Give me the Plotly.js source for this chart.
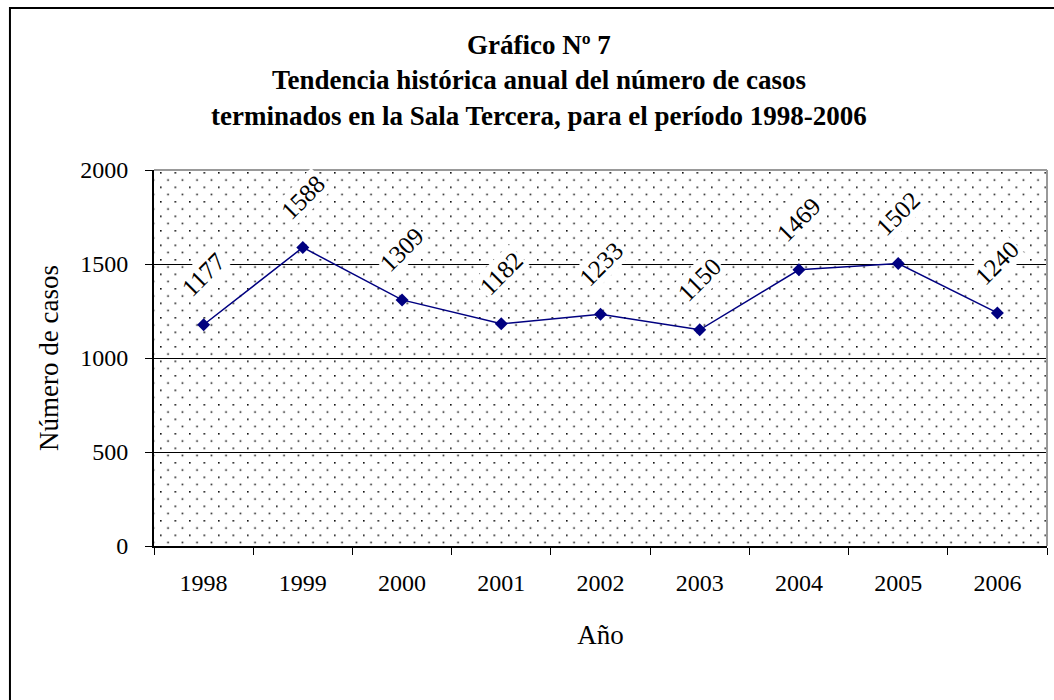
<!DOCTYPE html>
<html>
<head>
<meta charset="utf-8">
<script src="https://cdn.plot.ly/plotly-3.0.1.min.js"></script>
<style>
  html, body { margin: 0; padding: 0; background: #fff; }
  #chart { width: 1054px; height: 700px; }
</style>
</head>
<body>
<div id="chart"></div>
<script>
// values
const years = ['1998', '1999', '2000', '2001', '2002', '2003', '2004', '2005', '2006'];
const casos = [1177, 1588, 1309, 1182, 1233, 1150, 1469, 1502, 1240];
const yTicks = [0, 500, 1000, 1500, 2000];
const titleLines = [
  'Gráfico Nº 7',
  'Tendencia histórica anual del número de casos',
  'terminados en la Sala Tercera, para el período 1998-2006'
];

const serif = '"Liberation Serif", "DejaVu Serif", serif';

// dotted plot background, as a tiled svg pattern
function dotPattern(w, h) {
  const svg = '<svg xmlns="http://www.w3.org/2000/svg" width="' + w + '" height="' + h + '">' +
    '<defs><pattern id="p" patternUnits="userSpaceOnUse" width="14.5" height="14.5" x="6" y="2">' +
    '<rect x="0" y="0" width="1.6" height="1.6" fill="#111"/>' +
    '<rect x="7.25" y="7.25" width="1.6" height="1.6" fill="#111"/>' +
    '</pattern></defs><rect width="100%" height="100%" fill="url(#p)"/></svg>';
  return 'data:image/svg+xml;charset=utf-8,' + encodeURIComponent(svg);
}

function renderChart() {
  const trace = {
    x: years,
    y: casos,
    type: 'scatter',
    mode: 'lines+markers',
    line: { color: '#000080', width: 1.5 },
    marker: { symbol: 'diamond', size: 10, color: '#000080' },
    hoverinfo: 'x+y'
  };

  // category index as x, so '1998' is not read as position 1998
  const valueLabels = years.map(function(yr, i) {
    return {
      x: i, y: casos[i],
      xref: 'x', yref: 'y',
      text: String(casos[i]),
      showarrow: false,
      textangle: -45,
      yshift: 50,
      bgcolor: '#fff',
      borderpad: 1,
      font: { family: serif, size: 25, color: '#000' }
    };
  });

  const titleY = [1.3324, 1.2394, 1.1436];
  const titleNotes = titleLines.map(function(t, i) {
    return {
      x: 0.4311, y: titleY[i],
      xref: 'paper', yref: 'paper',
      xanchor: 'center', yanchor: 'middle',
      text: '<b>' + t + '</b>',
      showarrow: false,
      font: { family: serif, size: 27, color: '#000' }
    };
  });

  const layout = {
    width: 1054,
    height: 700,
    margin: { l: 154, r: 7, t: 170, b: 154 },
    paper_bgcolor: '#fff',
    plot_bgcolor: 'rgba(0,0,0,0)',
    showlegend: false,
    xaxis: {
      type: 'category',
      range: [-0.5, years.length - 0.5],
      tickson: 'boundaries',
      tickangle: 0,
      ticks: 'outside',
      ticklen: 7,
      tickcolor: '#000',
      showline: true,
      linecolor: '#000',
      linewidth: 2,
      showgrid: false,
      ticklabelstandoff: 14,
      tickfont: { family: serif, size: 24, color: '#000' },
      title: { text: 'Año', font: { family: serif, size: 27, color: '#000' }, standoff: 30 }
    },
    yaxis: {
      range: [0, 2000],
      tickvals: yTicks,
      ticks: 'outside',
      ticklen: 7,
      tickcolor: '#000',
      showline: true,
      linecolor: '#000',
      linewidth: 2,
      showgrid: true,
      gridcolor: '#000',
      gridwidth: 1,
      zeroline: false,
      ticklabelstandoff: 12,
      tickfont: { family: serif, size: 24, color: '#000' },
      title: { text: 'Número de casos', font: { family: serif, size: 27, color: '#000' }, standoff: 14 }
    },
    images: [{
      source: dotPattern(893, 376),
      xref: 'paper', yref: 'paper',
      x: 0, y: 1, sizex: 1, sizey: 1,
      xanchor: 'left', yanchor: 'top',
      sizing: 'stretch',
      layer: 'below'
    }],
    shapes: [
      // grey top and right edges of the plot area
      { type: 'line', xref: 'paper', yref: 'paper', x0: 0, x1: 1, y0: 1, y1: 1, line: { color: '#999', width: 2 } },
      { type: 'line', xref: 'paper', yref: 'paper', x0: 1, x1: 1, y0: 0, y1: 1, line: { color: '#999', width: 2 } },
      // chart frame
      { type: 'rect', xref: 'paper', yref: 'paper', x0: -0.1613, x1: 1.2, y0: -1, y1: 1.4309, line: { color: '#000', width: 2 } }
    ],
    annotations: titleNotes.concat(valueLabels)
  };

  Plotly.newPlot(document.getElementById('chart'), [trace], layout, { displayModeBar: false, staticPlot: true });
}

renderChart();
</script>
</body>
</html>
